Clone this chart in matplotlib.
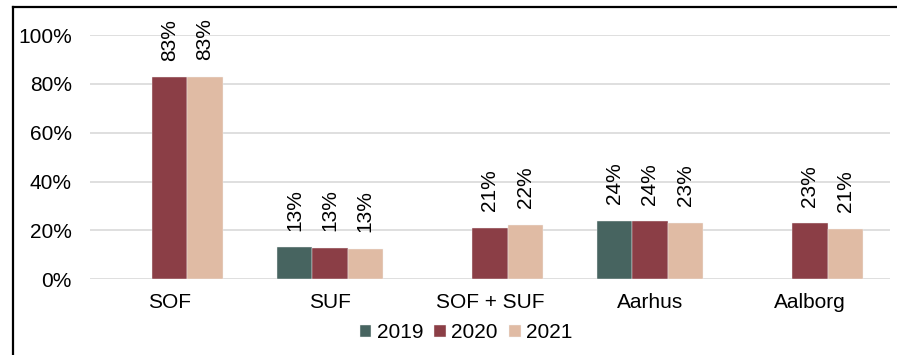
import numpy as np
import matplotlib.pyplot as plt
from matplotlib.lines import Line2D

plt.rcParams['font.family'] = ['Liberation Sans', 'DejaVu Sans']

categories = ['SOF', 'SUF', 'SOF + SUF', 'Aarhus', 'Aalborg']
years = ['2019', '2020', '2021']
share_2019 = [np.nan, 0.131, np.nan, 0.240, np.nan]
share_2020 = [0.827, 0.129, 0.210, 0.237, 0.229]
share_2021 = [0.829, 0.126, 0.222, 0.231, 0.206]
colors = ['#476460', '#8B3E46', '#E0BBA4']

fig = plt.figure(figsize=(8.97, 3.55), dpi=100)
ax = fig.add_axes([0.1003, 0.2132, 0.8919, 0.6882])

x = np.arange(len(categories))
w = 0.219
fs = 15
series = [share_2019, share_2020, share_2021]
for i, (vals, col, yr) in enumerate(zip(series, colors, years)):
    pos = x + (i - 1) * w
    ax.bar(pos, vals, w, color=col, edgecolor='#f2f2f2', linewidth=0.3, label=yr, zorder=3)
    for xp, v in zip(pos, vals):
        if np.isnan(v):
            continue
        ax.annotate('{:.0%}'.format(v), (xp, v), xytext=(0, 12), textcoords='offset points',
                    rotation=90, ha='center', va='bottom', fontsize=fs, annotation_clip=False)

ax.set_xlim(-0.5, len(categories) - 0.5)
ax.set_ylim(0, 1.0)
ax.set_yticks(np.arange(0, 1.01, 0.2))
ax.set_yticklabels(['{:.0%}'.format(t) for t in np.arange(0, 1.01, 0.2)], fontsize=fs)
ax.set_xticks(x)
ax.set_xticklabels(categories, fontsize=fs)
ax.tick_params(axis='y', length=0, pad=13)
ax.tick_params(axis='x', length=0, pad=10)
ax.grid(axis='y', color='#D9D9D9', linewidth=1.2, zorder=0)
ax.set_axisbelow(True)
for s in ax.spines.values():
    s.set_visible(False)

ax.legend(loc='center', bbox_to_anchor=(466 / 897, 1 - 333 / 355), bbox_transform=fig.transFigure,
          ncol=3, frameon=False, fontsize=fs, handlelength=0.55, handleheight=0.55,
          handletextpad=0.25, columnspacing=0.55, borderpad=0)

# frame lines around the figure
fig.add_artist(Line2D([13 / 897, 1], [1 - 7 / 355, 1 - 7 / 355], color='black', linewidth=1.6))
fig.add_artist(Line2D([13 / 897, 13 / 897], [0, 1 - 7 / 355], color='black', linewidth=1.6))

fig.savefig('out.png', dpi=100)
